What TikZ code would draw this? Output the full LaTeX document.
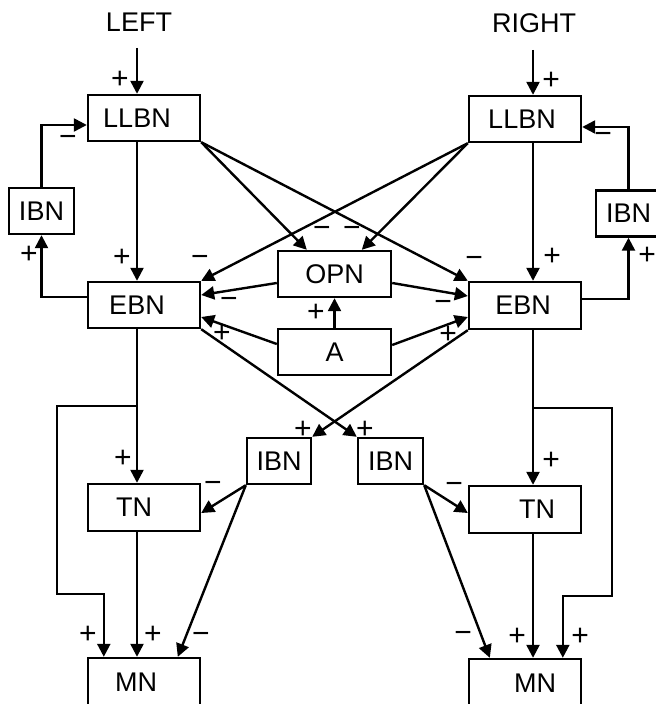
\documentclass[tikz,border=0pt]{standalone}
\usepackage{fontspec}
\setmainfont{Liberation Sans}
\usetikzlibrary{arrows.meta,calc}
\begin{document}
\begin{tikzpicture}[x=0.5pt,y=-0.5pt,
  txt/.style={font=\fontsize{13.5}{16}\selectfont},
  box/.style={txt,draw,line width=1.2pt,inner sep=0pt,minimum width=56pt,minimum height=23pt},
  narrow/.style={box,minimum width=32.5pt},
  link/.style={line width=1.2pt},
  arr/.style={link,-{Triangle[length=6.5pt,width=6.5pt]}},
  sign/.style={inner sep=0pt,font=\fontsize{15}{17}\selectfont},
  ]
\useasboundingbox (0,0) rectangle (656,704);
\clip (0,0) rectangle (656,704);

% inputs
\node[txt] (leftlbl) at (139,22) {LEFT};
\node[txt] (rightlbl) at (534,23) {RIGHT};

% left half
\node[box] (llbnL) at (144,118) {\hspace*{-7pt}LLBN};
\node[narrow] (ibnL) at (41.5,211) {IBN};
\node[box] (ebnL) at (144,305) {\hspace*{-7pt}EBN};
\node[box,minimum height=23.5pt] (tnL) at (144,507.5) {\hspace*{-10pt}TN};
\node[box,minimum height=24pt] (mnL) at (144,682) {\hspace*{-8pt}MN};

% right half
\node[box] (llbnR) at (525,119) {\hspace*{-3pt}LLBN};
\node[narrow] (ibnR) at (628.5,213.5) {IBN};
\node[box,minimum height=23.5pt] (ebnR) at (525,305.5) {\hspace*{-2pt}EBN};
\node[box,minimum height=23.5pt] (tnR) at (525,509.5) {\hspace*{12pt}TN};
\node[box,minimum height=24pt] (mnR) at (525,683) {\hspace*{10pt}MN};

% centre
\node[box,minimum width=56.5pt] (opn) at (334.5,274) {OPN};
\node[box,minimum width=56.5pt] (a) at (334.5,352) {A};
\node[narrow,minimum width=32pt] (ibnM1) at (279,461) {IBN};
\node[narrow] (ibnM2) at (390.5,461) {IBN};

% helper points
\coordinate (inL) at (137,48);
\coordinate (inR) at (533,50);
\coordinate (colL) at (137,0);
\coordinate (colR) at (533,0);
\coordinate (tapL) at (137,406);
\coordinate (bendL) at (57,594);
\coordinate (tapR) at (533,408);
\coordinate (bendR) at (612,596);

% vertical chains
\draw[arr] (inL) -- (inL |- llbnL.north);
\draw[arr] (inR) -- (inR |- llbnR.north);
\draw[arr] (llbnL.south -| colL) -- (ebnL.north -| colL);
\draw[arr] (llbnR.south -| colR) -- (ebnR.north -| colR);
\draw[arr] (ebnL.south -| colL) -- (tnL.north -| colL);
\draw[arr] (ebnR.south -| colR) -- (tnR.north -| colR);
\draw[arr] (tnL.south -| colL) -- (mnL.north -| colL);
\draw[arr] (tnR.south -| colR) -- (mnR.north -| colR);

% bypass loops to MN
\draw[arr] (tapL) -| (bendL) -| ($(mnL.north west)+(17,0)$);
\draw[arr] (tapR) -| (bendR) -| ($(mnR.north west)+(95,0)$);

% feedback through outer IBN
\draw[arr] (ibnL.north) |- ($(llbnL.west)+(0,7)$);
\draw[arr] ($(ebnL.west)+(0,-8)$) -| (ibnL.south);
\draw[arr] (ibnR.north) |- ($(llbnR.east)+(0,8)$);
\draw[arr] ($(ebnR.east)+(0,-6.5)$) -| (ibnR.south);

% LLBN crossings
\draw[arr] (llbnL.south east) -- ($(opn.north west)+(30,0)$);
\draw[arr] (llbnL.south east) -- (ebnR.north west);
\draw[arr] (llbnR.south west) -- ($(opn.north west)+(85,0)$);
\draw[arr] (llbnR.south west) -- (ebnL.north east);

% OPN and A to EBN
\draw[arr] ($(opn.west)+(0,9)$) -- ($(ebnL.east)+(0,-10)$);
\draw[arr] ($(opn.east)+(0,9)$) -- ($(ebnR.west)+(0,-9.5)$);
\draw[arr] ($(a.west)+(0,-8)$) -- ($(ebnL.east)+(0,12)$);
\draw[arr] ($(a.east)+(0,-7)$) -- ($(ebnR.west)+(0,11.5)$);
\draw[arr] (a.north) -- (opn.south);

% EBN to inner IBN
\draw[arr] (ebnL.south east) -- (ibnM2.north west);
\draw[arr] (ebnR.south west) -- (ibnM1.north east);

% inner IBN to TN and MN
\draw[arr] (ibnM1.south west) -- ($(tnL.east)+(0,5.5)$);
\draw[arr] (ibnM1.south west) -- ($(mnL.north west)+(91,0)$);
\draw[arr] (ibnM2.south east) -- ($(tnR.west)+(0,3.5)$);
\draw[arr] (ibnM2.south east) -- ($(mnR.north west)+(22,0)$);

% signs
\foreach \x/\y in {120/80,551/81,29/255,647/256,122/258,552/257,316/313,
  222/334,448/335,303/430,365/430,123/459,551/461,88/635,153/635,517/637,580/637}
  \node[sign] at (\x,\y) {+};
\foreach \x/\y in {68/141,603/138,200/261,474/262,322/232,352/232,229/303,
  443/306,213/487,454/488,201/638,463/637}
  \node[sign] at (\x,\y) {−};
\end{tikzpicture}
\end{document}
